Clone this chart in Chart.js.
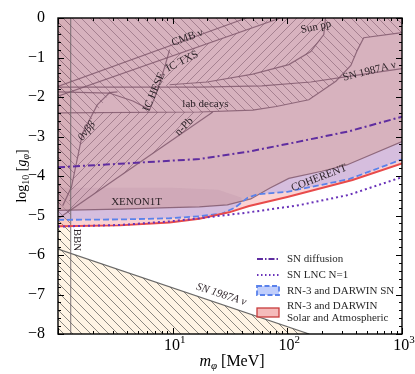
<!DOCTYPE html>
<html>
<head>
<meta charset="utf-8">
<script src="https://cdn.jsdelivr.net/npm/chart.js@4.4.0/dist/chart.umd.min.js"></script>
<style>
  html, body { margin: 0; padding: 0; background: #fff; }
</style>
</head>
<body>
<canvas id="canvas" width="415" height="374"></canvas>
<script>
// masses in MeV, couplings as log10(g_phi)
var diffMass = [1, 3.45, 17.1, 46.4, 126, 342, 1000]
var diffG = [-3.78, -3.69, -3.57, -3.38, -3.13, -2.87, -2.50]

var lncMass = [1, 3.45, 9.4, 17.1, 46.4, 126, 342, 1000]
var lncG = [-5.28, -5.24, -5.15, -5.07, -4.92, -4.74, -4.48, -4.03]

var solarMass = [1, 3.45, 9.4, 17.1, 31, 46.4, 100, 370, 1000]
var solarG = [-5.27, -5.25, -5.18, -5.08, -4.92, -4.76, -4.53, -4.10, -3.68]

var darwinMass = [1, 3.45, 9.4, 17.1, 27, 35, 45, 55, 100, 345, 1000]
var darwinG = [-5.11, -5.10, -5.07, -5.02, -4.95, -4.80, -4.55, -4.46, -4.40, -4.08, -3.58]

// lower edge of the excluded region (XENON1T, then COHERENT)
var boundMass = [1, 3.45, 9.4, 17.1, 30, 48, 70, 103, 200, 330, 1000]
var boundG = [-4.87, -4.84, -4.80, -4.78, -4.73, -4.58, -4.31, -4.06, -3.88, -3.72, -3.13]

var xenonTopMass = [1, 10, 25, 40]
var xenonTopG = [-4.30, -4.30, -4.35, -4.55]

// other bounds
var cmbMass = [1, 44]
var cmbG = [-1.73, 0]
var txsMass = [1, 87]
var txsG = [-1.98, 0]
var heseMass = [1, 2.8, 4.5, 6.3, 7.0, 7.8, 8.6, 9.4]
var heseG = [-1.87, -1.90, -2.10, -2.32, -2.00, -1.60, -1.20, -0.80]
var sn87Mass = [1, 17.1, 60, 160, 343, 1000]
var sn87G = [-1.75, -1.75, -1.72, -1.62, -1.48, -1.28]
var labMass = [1, 17.1, 50, 80, 154, 265, 358, 410, 464, 1000]
var labG = [-2.40, -2.38, -2.33, -2.24, -2.07, -1.60, -1.20, -0.80, -0.50, -0.37]
var sunMass = [9.4, 20, 50, 103, 160, 208, 215]
var sunG = [-1.69, -1.62, -1.42, -1.18, -0.85, -0.42, 0]
var bbMass = [1.1, 1.31, 1.64, 2.2, 2.82, 3.3]
var bbG = [-4.75, -4.28, -2.91, -2.20, -1.89, -1.87]
var npbMass = [1, 22.4]
var npbG = [-5.08, -2.38]
var bbnMass = [1.29, 1.29]
var bbnG = [-8, 0]
var snLowMass = [1, 155]
var snLowG = [-5.85, -8]

// hatched areas
var hatchAMass = [1, 1.31, 1.64, 2.82, 4, 17.1, 50, 80, 154, 265, 358, 410, 464, 1000, 1000, 1]
var hatchAG = [-4.87, -4.28, -2.91, -1.89, -2.38, -2.38, -2.33, -2.24, -2.07, -1.60, -1.20, -0.80, -0.50, -0.37, 0, 0]
var hatchBMass = [8.2, 9.0, 17.1, 40, 75, 215, 208, 160, 103, 50, 20, 8.2]
var hatchBG = [-1.72, -1.0, -0.72, -0.35, 0, 0, -0.42, -0.85, -1.18, -1.42, -1.62, -1.72]
var hatchCMass = [1.2, 22.4, 2.2, 1.64, 1.31, 1.2]
var hatchCG = [-4.92, -2.38, -2.38, -2.91, -4.28, -4.92]

var decades = [1, 10, 100, 1000]
var decadeLabels = [['10', '1'], ['10', '2'], ['10', '3']]

var tags = [
  ['CMB \u03bd', 13.4, -0.5, -20, false],
  ['IC TXS', 12.1, -1.1, -27, false],
  ['IC HESE', 6.9, -1.87, -67, false],
  ['Sun pp', 178, -0.23, -12, false],
  ['SN 1987A \u03bd', 521, -1.35, -14, false],
  ['lab decays', 19.3, -2.17, 0, false],
  ['n-Pb', 12.6, -2.75, -45, false],
  ['0\u03bd\u03b2\u03b2', 1.78, -2.86, -52, true],
  ['XENON1T', 4.84, -4.66, 0, false],
  ['COHERENT', 189, -4.05, -21, false],
  ['BBN', 1.45, -5.62, 90, false],
  ['SN 1987A \u03bd', 26.6, -7.0, 18, true]
]

var serif = '"Liberation Serif", "DejaVu Serif", serif'

function pts(ms, gs) {
  return ms.map(function (m, i) { return {x: m, y: gs[i]} })
}

function curve(ms, gs, opts) {
  return Object.assign({
    data: pts(ms, gs), showLine: true, pointRadius: 0, borderWidth: 0,
    fill: false, tension: 0
  }, opts)
}

var ctx = document.getElementById('canvas').getContext('2d')

function hatch(dir, bg, ink, step) {
  var c = document.createElement('canvas')
  c.width = step; c.height = step
  var g = c.getContext('2d')
  if (bg) { g.fillStyle = bg; g.fillRect(0, 0, step, step) }
  g.strokeStyle = ink
  g.lineWidth = 0.8
  g.beginPath()
  for (var k = -1; k <= 1; k++) {
    if (dir === 'back') { g.moveTo(k * step, 0); g.lineTo(k * step + step, step) }
    else { g.moveTo(k * step, step); g.lineTo(k * step + step, 0) }
  }
  g.stroke()
  return ctx.createPattern(c, 'repeat')
}

var creamHatch = hatch('back', 'rgb(255,244,228)', 'rgba(60,60,60,0.75)', 9)
var backHatch = hatch('back', null, 'rgba(90,55,75,0.5)', 9)
var fwdHatch = hatch('fwd', null, 'rgba(90,55,75,0.5)', 9)
// same as the stacked fills above the bounds, so the backslash hatch is hidden here
var fwdHatchSolid = hatch('fwd', 'rgb(216,179,191)', 'rgba(90,55,75,0.5)', 9)

var grayLine = 'rgba(125,85,105,0.8)'

var datasets = []
datasets.push(curve([1, 1.29], [0, 0], {fill: 'start', backgroundColor: creamHatch, order: 100}))
datasets.push(curve(snLowMass, snLowG, {fill: 'start', backgroundColor: creamHatch, order: 99}))
datasets.push(curve(solarMass, solarG, {fill: 'end', backgroundColor: 'rgba(240,110,110,0.3)', order: 90}))
datasets.push(curve(darwinMass, darwinG, {fill: 'end', backgroundColor: 'rgba(129,140,246,0.3)', order: 89}))
var boundIndex = datasets.length
datasets.push(curve(boundMass, boundG, {fill: 'end', backgroundColor: 'rgba(218,168,160,0.5)', borderWidth: 1.2, borderColor: grayLine, order: 80}))
datasets.push(curve(xenonTopMass, xenonTopG, {fill: boundIndex, backgroundColor: 'rgba(120,70,100,0.08)', order: 79}))
datasets.push(curve(hatchAMass, hatchAG, {fill: 'shape', backgroundColor: backHatch, order: 70}))
datasets.push(curve(hatchBMass, hatchBG, {fill: 'shape', backgroundColor: fwdHatchSolid, order: 69}))
datasets.push(curve(hatchCMass, hatchCG, {fill: 'shape', backgroundColor: fwdHatch, order: 68}))

var bounds = [
  [cmbMass, cmbG], [txsMass, txsG], [heseMass, heseG], [sn87Mass, sn87G],
  [labMass, labG], [sunMass, sunG], [bbMass, bbG], [npbMass, npbG]
]
bounds.forEach(function (b) {
  datasets.push(curve(b[0], b[1], {borderWidth: 1.2, borderColor: grayLine, order: 60}))
})
datasets.push(curve(bbnMass, bbnG, {borderWidth: 1.2, borderColor: 'rgba(110,100,105,0.75)', order: 59}))
datasets.push(curve(snLowMass, snLowG, {borderWidth: 1.2, borderColor: 'rgba(90,90,90,0.9)', order: 59}))

datasets.push(curve(darwinMass, darwinG, {borderWidth: 1.8, borderColor: 'rgb(90,130,235)', borderDash: [6, 3], order: 13}))
datasets.push(curve(solarMass, solarG, {borderWidth: 2, borderColor: 'rgb(232,75,75)', order: 12}))
datasets.push(curve(lncMass, lncG, {borderWidth: 2, borderColor: 'rgb(105,50,185)', borderDash: [2, 3], order: 11}))
datasets.push(curve(diffMass, diffG, {borderWidth: 2, borderColor: 'rgb(95,45,160)', borderDash: [7, 3, 2, 3], order: 10}))

function rich(c, parts, x, y, rot) {
  c.save()
  c.translate(x, y)
  c.rotate(rot)
  var w = 0
  parts.forEach(function (p) { c.font = p.f; w += c.measureText(p.t).width })
  var cx = -w / 2
  c.textAlign = 'left'
  c.textBaseline = 'alphabetic'
  c.fillStyle = '#000'
  parts.forEach(function (p) { c.font = p.f; c.fillText(p.t, cx, p.dy || 0); cx += c.measureText(p.t).width })
  c.restore()
}

function seg(c, x1, y1, x2, y2) {
  c.beginPath(); c.moveTo(x1, y1); c.lineTo(x2, y2); c.stroke()
}

var decor = {
  id: 'decor',
  afterDatasetsDraw: function (chart) {
    var c = chart.ctx, a = chart.chartArea, xs = chart.scales.x, ys = chart.scales.y
    c.save()

    // region labels
    c.fillStyle = 'rgb(45,35,40)'
    c.textAlign = 'center'
    c.textBaseline = 'middle'
    tags.forEach(function (t) {
      c.save()
      c.translate(xs.getPixelForValue(t[1]), ys.getPixelForValue(t[2]))
      c.rotate(t[3] * Math.PI / 180)
      c.font = (t[4] ? 'italic ' : '') + '11px ' + serif
      c.fillText(t[0], 0, 0)
      c.restore()
    })

    // legend
    var hx = 257, hw = 22, tx = 287
    c.lineWidth = 1.8
    c.strokeStyle = 'rgb(95,45,160)'
    c.setLineDash([6, 2, 1.5, 2])
    seg(c, hx, 259, hx + hw, 259)
    c.strokeStyle = 'rgb(105,50,185)'
    c.setLineDash([1.5, 2.5])
    seg(c, hx, 275, hx + hw, 275)
    c.setLineDash([5, 2.5])
    c.fillStyle = 'rgba(140,165,250,0.55)'
    c.fillRect(hx, 286, hw, 9)
    c.strokeStyle = 'rgb(90,130,235)'
    c.strokeRect(hx, 286, hw, 9)
    c.setLineDash([])
    c.fillStyle = 'rgba(240,150,150,0.65)'
    c.fillRect(hx, 308, hw, 9)
    c.strokeStyle = 'rgb(200,60,60)'
    c.lineWidth = 1.3
    c.strokeRect(hx, 308, hw, 9)

    c.fillStyle = 'rgb(40,40,40)'
    c.font = '11px ' + serif
    c.textAlign = 'left'
    c.textBaseline = 'middle'
    c.fillText('SN diffusion', tx, 259)
    c.fillText('SN LNC N=1', tx, 275)
    c.fillText('RN-3 and DARWIN SN', tx, 291)
    c.fillText('RN-3 and DARWIN', tx, 306)
    c.fillText('Solar and Atmospheric', tx, 318)

    // inward ticks on all four sides
    c.strokeStyle = '#000'
    c.lineWidth = 1
    for (var i = 0; i <= 40; i++) {
      var v = -8 + i * 0.2
      var len = i % 5 === 0 ? 6 : 3
      var py = Math.round(ys.getPixelForValue(v)) + 0.5
      seg(c, a.left, py, a.left + len, py)
      seg(c, a.right, py, a.right - len, py)
    }
    decades.forEach(function (d, j) {
      for (var k = 1; k < 10; k++) {
        if (j === decades.length - 1 && k > 1) break
        var px = Math.round(xs.getPixelForValue(d * k)) + 0.5
        var l = k === 1 ? 6 : 3
        seg(c, px, a.bottom, px, a.bottom - l)
        seg(c, px, a.top, px, a.top + l)
      }
    })
    c.lineWidth = 1.4
    c.strokeRect(a.left, a.top, a.right - a.left, a.bottom - a.top)

    // decade labels on the mass axis
    decadeLabels.forEach(function (p, j) {
      rich(c, [
        {t: p[0], f: '16px ' + serif},
        {t: p[1], f: '11px ' + serif, dy: -7}
      ], xs.getPixelForValue(decades[j + 1]) + 2, a.bottom + 16, 0)
    })

    // axis titles
    rich(c, [
      {t: 'm', f: 'italic 16px ' + serif},
      {t: '\u03c6', f: 'italic 11px ' + serif, dy: 3},
      {t: ' [MeV]', f: '16px ' + serif}
    ], (a.left + a.right) / 2 + 2, 366, 0)
    rich(c, [
      {t: 'log', f: '14px ' + serif},
      {t: '10', f: '10px ' + serif, dy: 3},
      {t: ' [', f: '14px ' + serif},
      {t: 'g', f: 'italic 14px ' + serif},
      {t: '\u03c6', f: 'italic 10px ' + serif, dy: 3},
      {t: ']', f: '14px ' + serif}
    ], 26, 176, -Math.PI / 2)

    c.restore()
  }
}

new Chart(ctx, {
  type: 'scatter',
  data: {datasets: datasets},
  options: {
    responsive: false,
    animation: false,
    layout: {padding: {top: 18, right: 13, left: 0, bottom: 0}},
    plugins: {legend: {display: false}, tooltip: {enabled: false}},
    scales: {
      x: {
        type: 'logarithmic', min: 1, max: 1000,
        grid: {display: false}, border: {display: false},
        afterFit: function (s) { s.height = 40 },
        ticks: {display: false}
      },
      y: {
        min: -8, max: 0,
        grid: {display: false}, border: {display: false},
        afterFit: function (s) { s.width = 58 },
        ticks: {
          stepSize: 1, padding: 5, color: '#000',
          font: {family: serif, size: 16},
          callback: function (v) { return v === 0 ? '0' : '\u2212' + Math.abs(v) }
        }
      }
    }
  },
  plugins: [decor]
})
</script>
</body>
</html>
